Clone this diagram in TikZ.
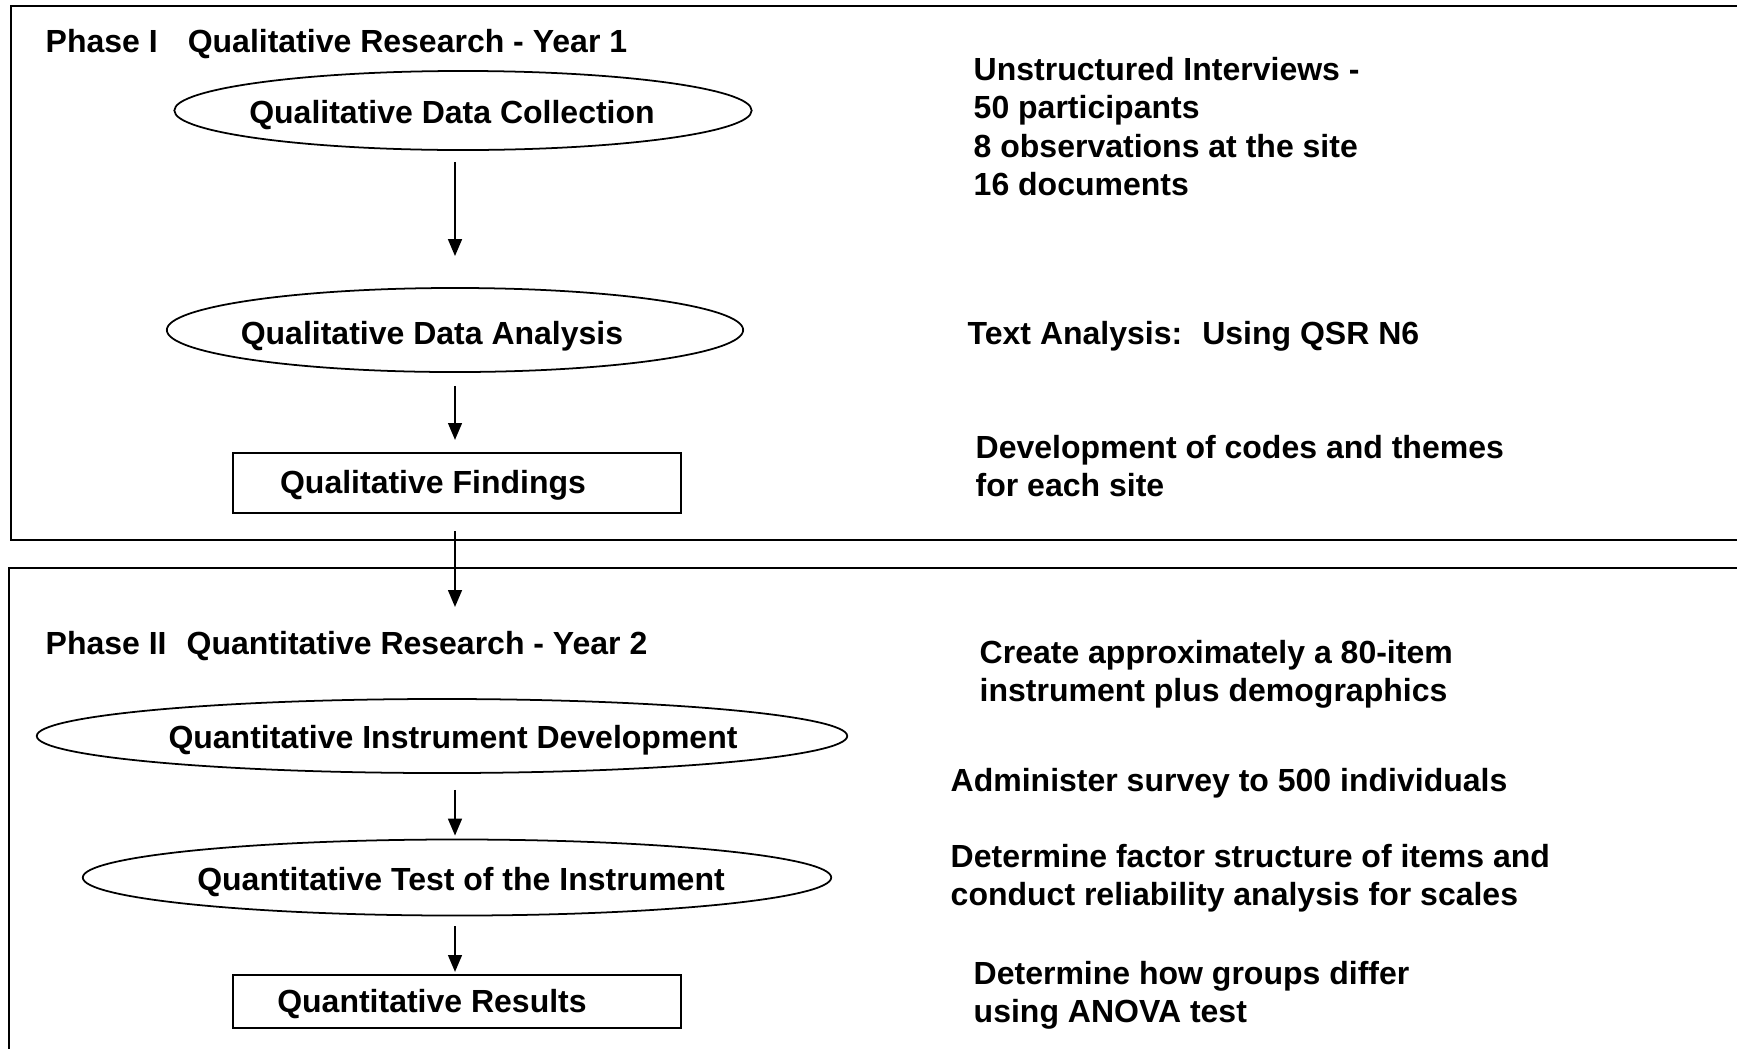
\documentclass[tikz,border=0pt]{standalone}
\usepackage{fontspec}
\setmainfont{Liberation Sans}
\usetikzlibrary{shapes.geometric,positioning,arrows.meta}
\newcommand{\nudge}[1]{\hspace*{#1}}
\newcommand{\lw}{0.6pt}

\begin{document}
\begin{tikzpicture}[x=0.01cm,y=-0.01cm,font=\fontsize{9.1}{10.9}\selectfont\bfseries,
  capline/.style={text height=0.716em,text depth=0pt},
  oval/.style={draw,ellipse,capline,line width=0.5pt,inner sep=0pt},
  result/.style={draw,rectangle,capline,text height=0.6em,line width=\lw,inner sep=0pt,minimum width=4.48cm},
  note/.style={anchor=base west,align=left,inner sep=0pt},
  flow/.style={-{Triangle[width=3.9pt,length=4.8pt]},line width=\lw}]
\useasboundingbox (0,0) rectangle (1737,1048);
% phase frames
\draw[line width=\lw] (1745,6) -- (11,6) -- (11,540) -- (1745,540);
\draw[line width=\lw] (1745,568) -- (9,568) -- (9,1055);
\node[note] (ph1) at (45,52.3) {Phase I\hspace{0.3cm}Qualitative Research - Year 1};
\node[note] (ph2) at (45,654)  {Phase II\hspace{0.2cm}Quantitative Research - Year 2};
%
\coordinate (spine) at (455,0);
\coordinate (entry) at (455,607);
\node[oval,minimum width=5.77cm,minimum height=0.79cm] (collect)  at (463,110.5) {\nudge{-0.22cm}Qualitative Data Collection};
\node[oval,minimum width=5.76cm,minimum height=0.84cm,text height=0.85em] (analyse) at (455,330) {\nudge{-0.46cm}Qualitative Data Analysis};
\node[result,minimum height=0.6cm]                     (findings) at (457,483)   {\nudge{-0.48cm}Qualitative Findings};
\node[oval,minimum width=8.10cm,minimum height=0.74cm] (develop)  at (442,736) {Quantitative Instrument Development\nudge{-0.22cm}};
\node[oval,minimum width=7.48cm,minimum height=0.76cm] (test)     at (457,877.5) {Quantitative Test of the Instrument\nudge{-0.08cm}};
\node[result,minimum height=0.53cm]                    (results)  at (457,1001.5) {\nudge{-0.5cm}Quantitative Results};
%
\node[note] (n1) at (973,195.5)  {Unstructured Interviews -\\50 participants\\8 observations at the site\\16 documents};
\node[note] (n2) at (967,344)    {Text Analysis:\hspace{0.2cm}Using QSR N6};
\node[note] (n3) at (975,496.5)  {Development of codes and themes\\for each site};
\node[note] (n4) at (979,701.5)  {Create approximately a 80-item\\instrument plus demographics};
\node[note] (n5) at (950,791.5)  {Administer survey to 500 individuals};
\node[note] (n6) at (950,905.5)  {Determine factor structure of items and\\conduct reliability analysis for scales};
\node[note] (n7) at (973,1022.5) {Determine how groups differ\\using ANOVA test};
%
\draw[flow,shorten <=0.11cm,shorten >=0.31cm] (collect.south -| spine)  -- (analyse.north -| spine);
\draw[flow,shorten <=0.13cm,shorten >=0.12cm] (analyse.south -| spine)  -- (findings.north -| spine);
\draw[flow,shorten <=0.17cm]                  (findings.south -| spine) -- (entry);
\draw[flow,shorten <=0.16cm,shorten >=0.03cm] (develop.south -| spine)  -- (test.north -| spine);
\draw[flow,shorten <=0.10cm,shorten >=0.02cm] (test.south -| spine)     -- (results.north -| spine);
\end{tikzpicture}
\end{document}
